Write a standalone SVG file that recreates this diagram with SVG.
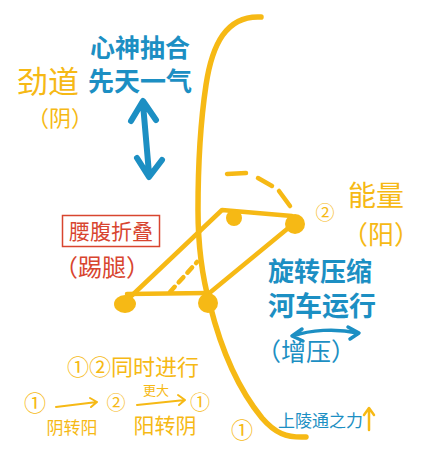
<svg xmlns="http://www.w3.org/2000/svg" width="436" height="465" viewBox="0 0 436 465">
<defs>
<style>
.y{fill:#f6b915;font-family:"Noto Sans CJK SC","Noto Sans",sans-serif}
.b{fill:#1c8fc3;font-family:"Noto Sans CJK SC","Noto Sans",sans-serif;font-weight:bold}
.bl{fill:#1c8fc3;font-family:"Noto Sans CJK SC","Noto Sans",sans-serif}
.r{fill:#d8452f;font-family:"Noto Sans CJK SC","Noto Sans",sans-serif}
.ys{fill:none;stroke:#f6b915;stroke-linecap:round;stroke-linejoin:round}
.bs{fill:none;stroke:#1c8fc3;stroke-linecap:round;stroke-linejoin:round}
.dot{fill:#f6b915}
</style>
</defs>
<rect width="436" height="465" fill="#ffffff"/>
<g id="connectors">
<path id="spine" class="ys" stroke-width="5.5" d="M261 17 C226 15 212 45 206 85 C200 125 198 170 198 210 C198 250 203 280 210 305 C220 345 235 385 262 418 C275 433 286 438 306 437"/>
<path class="ys" stroke-width="4.5" d="M125 302 L222 210 L292 216"/>
<path class="ys" stroke-width="4.5" d="M127 294 L208 293"/>
<path class="ys" stroke-width="4.5" d="M207 295 L292 225"/>
<path class="ys" stroke-width="4.5" stroke-dasharray="7 6" d="M170 292 L197 262"/>
<path class="ys" stroke-width="4.5" d="M227 174 L246 173 M258 178 L272 186 M279 191 L290 206"/>
<path class="bs" stroke-width="6" d="M143 104 C145 125 147 150 149 174 M131 121 L143 101 L156 120 M137 158 L149 177 L162 160"/>
<path class="bs" stroke-width="3.5" d="M293 336 C310 330 335 328 358 333 M302 329 L292 336 L303 341 M348 327 L359 333 L350 339"/>
<path class="ys" stroke-width="2" d="M56 407 L97 402 M90 398 L97 402 L91 407"/>
<path class="ys" stroke-width="2" d="M137 405 L185 400 M178 395 L185 400 L179 405"/>
<path class="ys" stroke-width="2.5" d="M369 430 L369 409 M364 415 L369 408 L374 415"/>
</g>
<g id="dot-left"><ellipse class="dot" cx="125" cy="304" rx="11" ry="9"/></g>
<g id="dot-top"><circle class="dot" cx="234" cy="218" r="8"/></g>
<g id="dot-right"><circle class="dot" cx="295" cy="224" r="10"/></g>
<g id="dot-spine"><circle class="dot" cx="208" cy="303" r="10"/></g>
<g id="xin-shen"><text class="b" x="140" y="57" font-size="25" text-anchor="middle">心神抽合</text><text class="b" x="140" y="91" font-size="26" text-anchor="middle">先天一气</text></g>
<g id="jin-dao"><text class="y" x="17" y="93" font-size="31">劲道</text><text class="y" x="27" y="126" font-size="22">（阴）</text></g>
<g id="yao-fu"><rect x="62.5" y="215.5" width="97" height="31" fill="none" stroke="#d8452f" stroke-width="1.5"/><text class="r" x="111" y="239" font-size="21" text-anchor="middle">腰腹折叠</text><text class="r" x="54" y="276" font-size="24">（踢腿）</text></g>
<g id="neng-liang"><text class="y" x="325" y="220" font-size="19" text-anchor="middle">②</text><text class="y" x="348" y="206" font-size="28">能量</text><text class="y" x="342" y="244" font-size="26">（阳）</text></g>
<g id="xuan-zhuan"><text class="b" x="320" y="281" font-size="26" text-anchor="middle">旋转压缩</text><text class="b" x="322" y="316" font-size="27" text-anchor="middle">河车运行</text><text class="bl" x="256" y="361" font-size="25">（增压）</text></g>
<g id="tong-shi"><text class="y" x="67" y="375" font-size="22">①②同时进行</text></g>
<g id="cycle"><text class="y" x="35" y="411" font-size="22" text-anchor="middle">①</text><text class="y" x="72" y="434" font-size="17" text-anchor="middle">阴转阳</text><text class="y" x="116" y="410" font-size="19" text-anchor="middle">②</text><text class="y" x="156" y="395" font-size="13" text-anchor="middle">更大</text><text class="y" x="165" y="433" font-size="21" text-anchor="middle">阳转阴</text><text class="y" x="200" y="410" font-size="20" text-anchor="middle">①</text></g>
<g id="shang-zhi"><text class="y" x="242" y="438" font-size="22" text-anchor="middle">①</text><text class="bl" x="278" y="427" font-size="17">上陵通之力</text></g>
</svg>
